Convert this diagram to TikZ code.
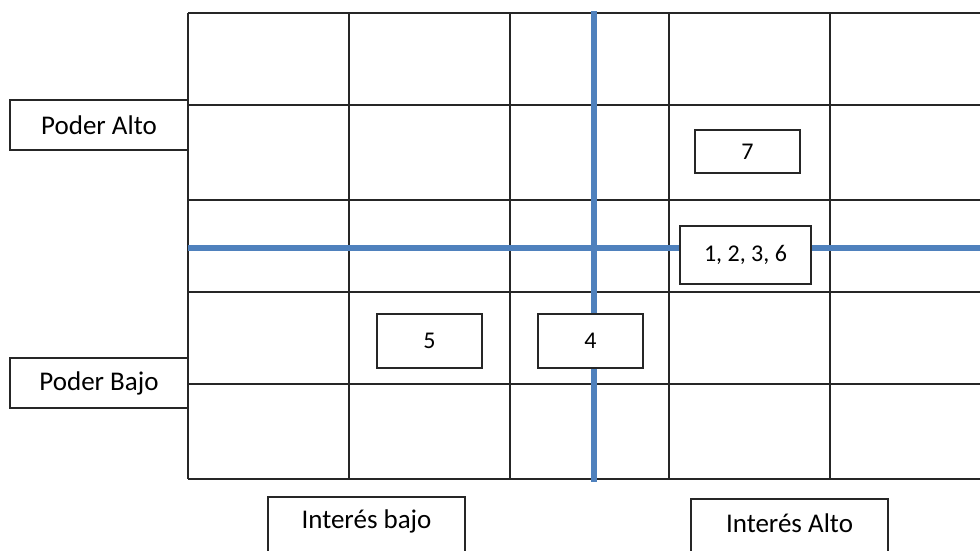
\documentclass[tikz,border=0pt]{standalone}
\usepackage{fontspec}
\setmainfont{Carlito}
\definecolor{officeblue}{HTML}{4F81BD}
\begin{document}
\begin{tikzpicture}[x=1pt,y=-1pt,
  gridline/.style={draw=black!85, line width=1.6pt},
  axisline/.style={draw=officeblue, line width=5.5pt},
  labelbox/.style={draw=black!85, line width=1.6pt, fill=white, inner sep=0pt, font=\fontsize{27}{32}\selectfont},
  numbox/.style={draw=black!85, line width=1.6pt, fill=white, inner sep=0pt, font=\fontsize{24}{28}\selectfont},
  plaintext/.style={inner sep=0pt, font=\fontsize{27}{32}\selectfont}]
\useasboundingbox (0,0) rectangle (980,550);
\clip (0,0) rectangle (980,550);
\fill[white] (0,0) rectangle (980,550);
% grid
\foreach \yy in {13,105,200,292,384,479} \draw[gridline] (188,\yy) -- (990,\yy);
\foreach \xx in {188,349,510,669,830} \draw[gridline] (\xx,13) -- (\xx,479);
% axes
\draw[axisline] (188,248) -- (990,248);
\draw[axisline] (594,11) -- (594,482);
% side labels
\node[labelbox, minimum width=178, minimum height=50] (pa) at (99,125) {Poder Alto};
\node[labelbox, minimum width=178, minimum height=50] (pb) at (99,383) {Poder Bajo};
% bottom labels
\node[labelbox, minimum width=197, minimum height=80, anchor=north] (ibbox) at (366.5,496) {};
\node[plaintext] (ib) at (366.5,521) {Interés bajo};
\node[labelbox, minimum width=197, minimum height=80, anchor=north] (iabox) at (789.5,498) {};
\node[plaintext] (ia) at (789.5,523) {Interés Alto};
% numbered boxes
\node[numbox, minimum width=105, minimum height=43] (n7) at (747.5,151.5) {7};
\node[numbox, minimum width=131, minimum height=58] (n1236) at (745.5,255) {1, 2, 3, 6};
\node[numbox, minimum width=105, minimum height=54] (n5) at (429.5,341) {5};
\node[numbox, minimum width=105, minimum height=54] (n4) at (590.5,341) {4};
\end{tikzpicture}
\end{document}
